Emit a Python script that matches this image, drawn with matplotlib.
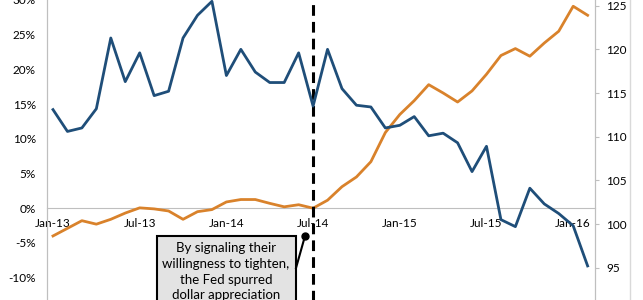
import matplotlib.pyplot as plt
from matplotlib.lines import Line2D
from matplotlib.patches import Rectangle
import numpy as np

# monthly, Jan-13 .. Feb-16
months = np.arange(38)
tick_pos = [0, 6, 12, 18, 24, 30, 36]
tick_labels = ["Jan-13", "Jul-13", "Jan-14", "Jul-14", "Jan-15", "Jul-15", "Jan-16"]

# dollar, % change (left axis)
dollar = [-4.0, -2.9, -1.8, -2.3, -1.6, -0.7, 0.05, -0.1, -0.4, -1.6,
          -0.5, -0.2, 0.9, 1.25, 1.25, 0.7, 0.2, 0.5, 0.0, 1.15,
          3.1, 4.5, 6.7, 10.9, 13.5, 15.5, 17.8, 16.6, 15.3, 16.9,
          19.3, 22.0, 23.0, 21.9, 23.8, 25.5, 29.1, 27.8]

# index level (right axis)
index = [113.1, 110.6, 111.0, 113.2, 121.3, 116.3, 119.6, 114.7, 115.2, 121.3,
         123.9, 125.5, 117.0, 120.0, 117.4, 116.2, 116.2, 119.6, 113.5, 120.0,
         115.5, 113.6, 113.4, 111.0, 111.3, 112.3, 110.1, 110.4, 109.3, 106.0,
         108.9, 100.5, 99.7, 104.1, 102.3, 101.2, 99.8, 95.2]

note = "By signaling their\nwillingness to tighten,\nthe Fed spurred\ndollar appreciation"

plt.rcParams['font.family'] = ['Lato', 'DejaVu Sans']

W, H = 643, 300
fig = plt.figure(figsize=(W / 100, H / 100), dpi=100)
ax = fig.add_axes([47 / W, -0.041, (595 - 47) / W, 1.041])
ax2 = ax.twinx()

ax.plot(months, dollar, color='#D9822B', lw=2, zorder=3)
ax2.plot(months, index, color='#1F4E79', lw=2, zorder=3)

ax.set_xlim(-0.415, 37.51)
ax.set_ylim(-15, 30)
ax2.set_ylim(89.89, 125.65)

ax.set_yticks([-10, -5, 0, 5, 10, 15, 20, 25, 30])
ax.set_yticklabels([f"{v}%" for v in [-10, -5, 0, 5, 10, 15, 20, 25, 30]])
ax2.set_yticks([95, 100, 105, 110, 115, 120, 125])
ax.set_xticks(tick_pos)
ax.set_xticklabels(tick_labels)

gray = '#BFBFBF'
for a in (ax, ax2):
    for s in a.spines.values():
        s.set_color(gray)
    a.spines['top'].set_visible(False)
ax.spines['bottom'].set_position(('data', 0))
ax2.spines['bottom'].set_visible(False)
ax.tick_params(axis='x', length=0, labelsize=8.5, pad=7, colors='black')
ax.tick_params(axis='y', length=0, labelsize=8.5, pad=8, colors='black')
ax2.tick_params(axis='y', length=3, color=gray, labelsize=8.5, pad=5, labelcolor='black')

# Fed signal: dashed line at Jul-14
ax.axvline(18, color='black', lw=2.2, ls=(0, (3.5, 2)), zorder=4)

# annotation box
fig.add_artist(Rectangle((156.7 / W, -0.1), (296 - 156.7) / W, 0.1 + (1 - 236 / H),
                         transform=fig.transFigure, facecolor='#E3E3E3',
                         edgecolor='black', lw=1.5, zorder=5))
fig.text(226 / W, 1 - 242 / H, note, ha='center', va='top', fontsize=9.5,
         linespacing=1.38, zorder=6)
fig.add_artist(Line2D([296 / W, 305 / W], [1 - 268 / H, 1 - 236 / H],
                      transform=fig.transFigure, color='black', lw=1.5, zorder=6))
ax.plot([17.44], [-4.03], 'o', color='black', ms=5, zorder=6, clip_on=False)

fig.add_artist(Line2D([630 / W, 630 / W], [0, 1], transform=fig.transFigure,
                      color='#D9D9D9', lw=1))

fig.savefig('out.png', dpi=100)
